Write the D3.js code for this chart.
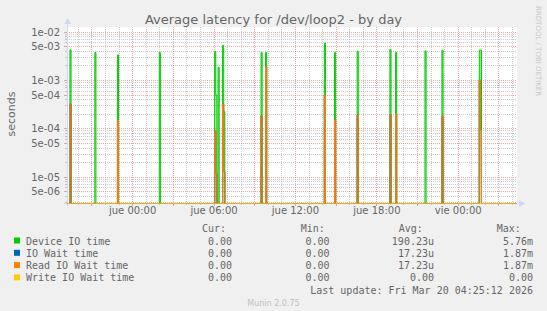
<!DOCTYPE html>
<html>
<head>
<meta charset="utf-8">
<script src="https://cdn.jsdelivr.net/npm/d3@7"></script>
<style>
  body { margin: 0; background: #f0f0f0; }
  svg { display: block; }
  text { fill: #666; }
</style>
</head>
<body>
<svg id="chart" width="547" height="311"></svg>
<script>
// sample times (5 min steps) where something happened; every other sample is 0
var sampleTimes = [
    "2026-03-18 19:25", "2026-03-18 21:15", "2026-03-18 22:55", "2026-03-19 02:00",
    "2026-03-19 06:05", "2026-03-19 06:10", "2026-03-19 06:20", "2026-03-19 06:40",
    "2026-03-19 06:45", "2026-03-19 09:30", "2026-03-19 09:50", "2026-03-19 14:10",
    "2026-03-19 14:55", "2026-03-19 16:35", "2026-03-19 19:00", "2026-03-19 19:25",
    "2026-03-19 21:35", "2026-03-19 22:50", "2026-03-20 01:35", "2026-03-20 01:40"
];
var deviceIO = [4.2e-3, 3.7e-3, 3.3e-3, 3.7e-3, 3.85e-3, 4.9e-4, 1.83e-3, 5.2e-3, 2.2e-4, 3.7e-3,
    3.7e-3, 5.76e-3, 3.7e-3, 3.95e-3, 4.3e-3, 3.7e-3, 4.0e-3, 4.1e-3, 4.15e-3, 4.15e-3];
var ioWait = [3.2e-4, 0, 1.45e-4, 0, 8.8e-5, 1.15e-5, 0, 3.2e-4, 1.26e-5, 1.8e-4,
    1.87e-3, 4.9e-4, 1.5e-4, 1.9e-4, 1.9e-4, 2.0e-4, 0, 1.8e-4, 1.0e-3, 9.2e-5];
var readIOWait = [3.2e-4, 0, 1.45e-4, 0, 8.8e-5, 1.15e-5, 0, 3.2e-4, 1.26e-5, 1.8e-4,
    1.87e-3, 4.9e-4, 1.5e-4, 1.9e-4, 1.9e-4, 2.0e-4, 0, 1.8e-4, 1.0e-3, 9.2e-5];
var writeIOWait = [0, 0, 0, 0, 0, 0, 0, 0, 0, 0, 0, 0, 0, 0, 0, 0, 0, 0, 0, 0];

var seriesNames = ["Device IO time", "IO Wait time", "Read IO Wait time", "Write IO Wait time"];
var seriesColors = ["#00cc00", "#0066b3", "#ff8000", "#ffcc00"];
var curValues = ["0.00", "0.00", "0.00", "0.00"];
var minValues = ["0.00", "0.00", "0.00", "0.00"];
var avgValues = ["190.23u", "17.23u", "17.23u", "0.00"];
var maxValues = ["5.76m", "1.87m", "1.87m", "0.00"];

var yTicks = [5e-6, 1e-5, 5e-5, 1e-4, 5e-4, 1e-3, 5e-3, 1e-2];
var yTickLabels = ["5e-06", "1e-05", "5e-05", "1e-04", "5e-04", "1e-03", "5e-03", "1e-02"];
var xTicks = ["2026-03-19 00:00", "2026-03-19 06:00", "2026-03-19 12:00", "2026-03-19 18:00", "2026-03-20 00:00"];
var xTickLabels = ["jue 00:00", "jue 06:00", "jue 12:00", "jue 18:00", "vie 00:00"];
var timeRange = ["2026-03-18 19:12", "2026-03-20 04:22"];

function latencyVisual() {
    var svg = d3.select("#chart"),
        plot = { left: 67, right: 517, top: 27, bottom: 203 };

    var parseTime = d3.timeParse("%Y-%m-%d %H:%M");
    var step = 5 * 60 * 1000;

    var x = d3.scaleTime().domain(timeRange.map(parseTime)).range([plot.left, plot.right]),
        y = d3.scaleLog().domain([2.84e-6, 1.25e-2]).range([plot.bottom, plot.top]);

    // zero can't go on a log scale, rrdtool puts it on the floor
    var yv = v => v > 0 ? y(v) : plot.bottom + 0.5;

    svg.append("rect")
        .attr("x", plot.left).attr("y", plot.top)
        .attr("width", plot.right - plot.left).attr("height", plot.bottom - plot.top)
        .attr("fill", "#fff");

    // fading haze under the spikes
    var defs = svg.append("defs");
    seriesColors.forEach((c, i) => {
        var g = defs.append("linearGradient").attr("id", "fade" + i)
            .attr("gradientUnits", "userSpaceOnUse")
            .attr("x1", 0).attr("x2", 0).attr("y1", plot.top).attr("y2", plot.bottom);
        g.append("stop").attr("offset", 0).attr("stop-color", c).attr("stop-opacity", 0.55);
        g.append("stop").attr("offset", 1).attr("stop-color", c).attr("stop-opacity", 0.1);
    });

    // grid
    var grid = svg.append("g").attr("shape-rendering", "crispEdges");
    var minorColor = "rgba(140,140,140,0.45)", majorColor = "rgba(230,60,60,0.45)";
    var hours = d3.timeHour.range(x.domain()[0], x.domain()[1]);
    hours.forEach(h => {
        var major = h.getHours() % 3 === 0;
        var xx = Math.round(x(h)) + 0.5;
        grid.append("line")
            .attr("x1", xx).attr("x2", xx)
            .attr("y1", plot.top).attr("y2", plot.bottom)
            .attr("stroke", major ? majorColor : minorColor)
            .attr("stroke-dasharray", "1,1");
        grid.append("line")
            .attr("x1", xx).attr("x2", xx)
            .attr("y1", plot.bottom).attr("y2", plot.bottom + (major ? 3 : 2))
            .attr("stroke", major ? majorColor : minorColor);
    });
    for (var k = -6; k <= -2; k++) {
        for (var m = 1; m <= 9; m++) {
            var v = m * Math.pow(10, k);
            if (v < y.domain()[0] || v > y.domain()[1]) continue;
            var major = (m === 1 || m === 5);
            var yy = Math.round(y(v)) + 0.5;
            grid.append("line")
                .attr("x1", plot.left).attr("x2", plot.right)
                .attr("y1", yy).attr("y2", yy)
                .attr("stroke", major ? majorColor : minorColor)
                .attr("stroke-dasharray", "1,1");
            grid.append("line")
                .attr("x1", plot.left - (major ? 3 : 2)).attr("x2", plot.left)
                .attr("y1", yy).attr("y2", yy)
                .attr("stroke", major ? majorColor : minorColor);
        }
    }

    // axes (labels only, lines are drawn by hand below)
    var yAxis = d3.axisLeft(y).tickValues(yTicks)
        .tickFormat((d, i) => yTickLabels[i]).tickSize(0).tickPadding(0);
    var gy = svg.append("g").attr("transform", "translate(60,0)").call(yAxis);
    gy.select(".domain").remove();
    gy.selectAll("text").attr("font-family", "DejaVu Sans").attr("font-size", 10)
        .attr("fill", "#666").attr("dy", "0.35em");

    var xAxis = d3.axisBottom(x).tickValues(xTicks.map(parseTime))
        .tickFormat((d, i) => xTickLabels[i]).tickSize(0).tickPadding(0);
    var gx = svg.append("g").attr("transform", "translate(0,207)").call(xAxis);
    gx.select(".domain").remove();
    gx.selectAll("text").attr("font-family", "DejaVu Sans").attr("font-size", 10)
        .attr("fill", "#666").attr("dy", "0.71em");

    // axis lines + arrows
    var axisColor = "#cfd6f8";
    svg.append("line").attr("x1", plot.left + 0.5).attr("x2", plot.left + 0.5)
        .attr("y1", plot.bottom + 3).attr("y2", plot.top - 3).attr("stroke", axisColor);
    svg.append("line").attr("x1", plot.left - 3).attr("x2", plot.right + 3)
        .attr("y1", plot.bottom + 0.5).attr("y2", plot.bottom + 0.5).attr("stroke", axisColor);
    svg.append("path").attr("fill", axisColor)
        .attr("d", "M" + (plot.left - 3) + "," + (plot.top - 3) + "L" + (plot.left + 0.5) + "," + (plot.top - 9) + "L" + (plot.left + 4) + "," + (plot.top - 3) + "Z");
    svg.append("path").attr("fill", axisColor)
        .attr("d", "M" + (plot.right + 2) + "," + (plot.bottom - 3) + "L" + (plot.right + 8) + "," + (plot.bottom + 0.5) + "L" + (plot.right + 2) + "," + (plot.bottom + 4) + "Z");

    // series lines: spikes from floor, step after each 5 min sample
    var times = sampleTimes.map(parseTime);
    function points(values) {
        var pts = [{ t: x.domain()[0], v: 0 }];
        times.forEach((t, i) => {
            pts.push({ t: t, v: values[i] });
            var next = times[i + 1];
            if (!next || next - t > step) pts.push({ t: new Date(+t + step), v: 0 });
        });
        pts.push({ t: x.domain()[1], v: 0 });
        return pts;
    }
    var line = d3.line().x(d => x(d.t)).y(d => yv(d.v)).curve(d3.curveStepAfter);
    var area = d3.area().x(d => x(d.t)).y0(plot.bottom).y1(d => yv(d.v)).curve(d3.curveStepAfter);
    var lines = svg.append("g").attr("fill", "none");
    [deviceIO, ioWait, readIOWait, writeIOWait].forEach((values, i) => {
        var pts = points(values);
        lines.append("path")
            .datum(pts)
            .attr("fill", "url(#fade" + i + ")")
            .attr("d", area);
        lines.append("path")
            .datum(pts)
            .attr("stroke", seriesColors[i])
            .attr("stroke-width", 1)
            .attr("stroke-opacity", i === 3 ? 0.45 : 1)
            .attr("d", line);
    });

    // title and labels
    svg.append("text").attr("x", 273.5).attr("y", 24).attr("text-anchor", "middle")
        .attr("font-family", "DejaVu Sans").attr("font-size", 13)
        .text("Average latency for /dev/loop2 - by day");
    svg.append("text").attr("transform", "translate(15,114) rotate(-90)")
        .attr("text-anchor", "middle").attr("font-family", "DejaVu Sans").attr("font-size", 11)
        .text("seconds");
    svg.append("text").attr("transform", "translate(536,6) rotate(90)")
        .attr("font-family", "DejaVu Sans").attr("font-size", 7).style("fill", "#c8c8c8")
        .text("RRDTOOL / TOBI OETIKER");

    // legend
    var legend = svg.append("g").attr("font-family", "DejaVu Sans Mono").attr("font-size", 10);
    var headers = [["Cur:", 202], ["Min:", 300.7], ["Avg:", 398.7], ["Max:", 496.7]];
    headers.forEach(h => legend.append("text").attr("x", h[1]).attr("y", 232).text(h[0]));
    var colRight = [232, 329.6, 434, 533];
    seriesNames.forEach((name, i) => {
        var yy = 244.5 + i * 12.3;
        legend.append("rect").attr("x", 14).attr("y", yy - 7).attr("width", 6).attr("height", 6)
            .attr("fill", seriesColors[i]);
        legend.append("text").attr("x", 26).attr("y", yy).text(name);
        [curValues, minValues, avgValues, maxValues].forEach((col, j) => {
            legend.append("text").attr("x", colRight[j]).attr("y", yy)
                .attr("text-anchor", "end").text(col[i]);
        });
    });
    legend.append("text").attr("x", 533).attr("y", 294).attr("text-anchor", "end")
        .text("Last update: Fri Mar 20 04:25:12 2026");
    svg.append("text").attr("x", 273.5).attr("y", 306).attr("text-anchor", "middle")
        .attr("font-family", "DejaVu Sans").attr("font-size", 8).style("fill", "#c0c0c0")
        .text("Munin 2.0.75");
}

latencyVisual();
</script>
</body>
</html>
